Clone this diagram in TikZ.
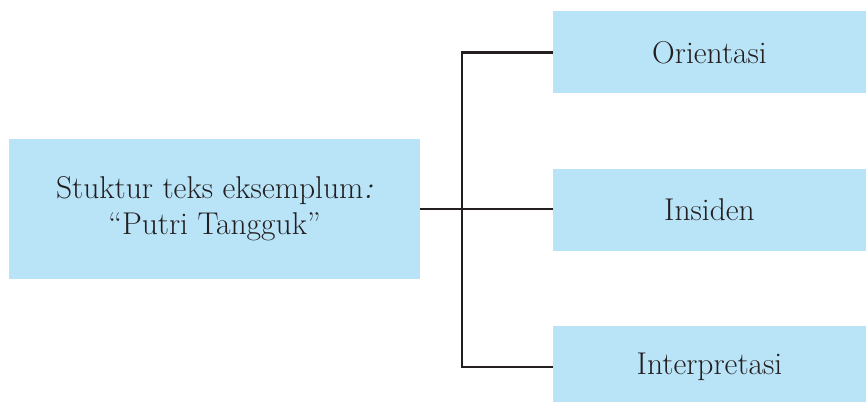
\documentclass[tikz,border=0pt]{standalone}
\definecolor{boxblue}{RGB}{185,228,248}
\definecolor{linegray}{RGB}{35,31,32}
\begin{document}
\begin{tikzpicture}[x=1pt,y=-1pt,
  box/.style={fill=boxblue,draw=none,inner sep=0pt,minimum width=313pt,minimum height=82pt,
    font=\fontsize{31.5}{36}\selectfont,text=linegray},
  conn/.style={draw=linegray,line width=2.6pt}]
\clip (0,0) rectangle (866,401);
\useasboundingbox (0,0) rectangle (866,401);
\node[box,minimum width=411pt,minimum height=140pt,align=center] (src) at (214.5,209) {Stuktur teks eksemplum\textit{:}\\``Putri Tangguk''};
\node[box] (ori) at (709.5,52.5) {Orientasi};
\node[box] (ins) at (709.5,210) {Insiden};
\node[box] (int) at (709.5,367) {Interpretasi};
\coordinate (j) at (462,209);
\draw[conn] (src.east) -- (ins.west |- src.east);
\draw[conn] (ori.west) -| (j) |- (int.west);
\end{tikzpicture}
\end{document}
